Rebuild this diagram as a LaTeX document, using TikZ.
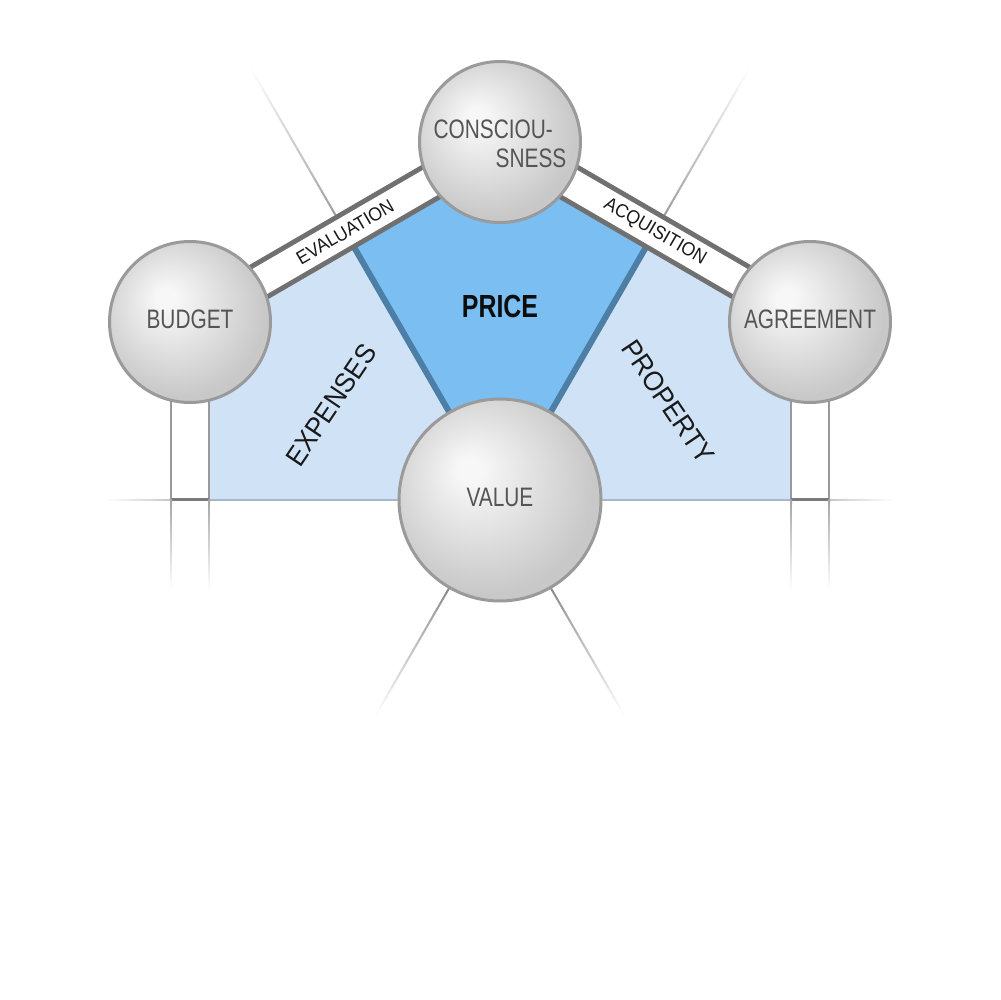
\documentclass[tikz,border=0pt]{standalone}
\usepackage{fontspec}
\setmainfont{Liberation Sans}[FakeStretch=0.93]
\newfontfamily\narrowfont{Liberation Sans}[FakeStretch=0.78]
\usetikzlibrary{calc,backgrounds}

\definecolor{rimgray}{HTML}{9A9A9A}
\definecolor{orbhi}{HTML}{F7F7F7}
\definecolor{orblo}{HTML}{C8C8C8}
\definecolor{labelgray}{HTML}{555555}
\definecolor{bandgray}{HTML}{707070}
\definecolor{paleblue}{HTML}{D0E3F6}
\definecolor{priceblue}{HTML}{7BBEF1}
\definecolor{steelblue}{HTML}{4C7EA6}
\definecolor{baseblue}{HTML}{A5B8CC}

\pgfdeclareradialshading{orbshade}{\pgfpoint{-8bp}{8bp}}{color(0bp)=(orbhi); color(3bp)=(orbhi); color(27bp)=(orblo); color(50bp)=(orblo)}

% gray guide line that fades out towards its second end
\newcommand{\fadeline}[3]{%
  \foreach \k in {1,...,24}{%
    \pgfmathtruncatemacro{\tone}{#3*(25-\k)/24}%
    \draw[line width=0.2mm, line cap=round, black!\tone] ($(#1)!{(\k-1)/24}!(#2)$) -- ($(#1)!{\k/24}!(#2)$);
  }}

\begin{document}
\begin{tikzpicture}[x=0.1mm, y=0.1mm,
		orb/.style={circle, draw=rimgray, line width=0.3mm, shading=orbshade, minimum size=16.1mm, inner sep=0pt, text depth=0.6mm, text=labelgray, font=\narrowfont\fontsize{7.6}{9}\selectfont},
		bigorb/.style={orb, minimum size=20.2mm},
		orbtext/.style={inner sep=0pt, text=labelgray, font=\narrowfont\fontsize{7.6}{9}\selectfont},
		bandedge/.style={draw=bandgray, line width=3.9mm},
		bandface/.style={draw=white, line width=2.9mm},
		priceline/.style={draw=steelblue, line width=0.6mm},
		pillar/.style={draw=black!40, line width=0.2mm},
		bandlabel/.style={inner sep=0pt, text=black!90, font=\fontsize{5.4}{6}\selectfont},
		sidelabel/.style={inner sep=0pt, text=black!90, font=\fontsize{7.9}{9}\selectfont},
		pricelabel/.style={inner sep=0pt, text=black!95, font=\narrowfont\bfseries\fontsize{9.1}{10}\selectfont}]
	\useasboundingbox (0,0) rectangle (1000,1000);
	% spheres
	\node[orb] (cons) at (500,858) {};
	\node[orbtext, anchor=base west] (cons1) at (433,861) {CONSCIOU-};
	\node[orbtext, anchor=base east] (cons2) at (567,832) {SNESS};
	\node[orb] (budget) at (190,678) {BUDGET};
	\node[orb] (agree) at (810,678) {AGREEMENT};
	\node[bigorb] (value) at (500,500) {VALUE};
	% labels
	\node[pricelabel] (price) at (500,694) {PRICE};
	\node[sidelabel, rotate=56] (expenses) at (331,595) {EXPENSES};
	\node[sidelabel, rotate=-56] (property) at (668,598) {PROPERTY};
	\path (budget) -- (cons) node[bandlabel, midway, sloped] (evaluation) {EVALUATION};
	\path (cons) -- (agree) node[bandlabel, midway, sloped] (acquisition) {ACQUISITION};
	\begin{pgfonlayer}{background}
		\fill[white] (0,0) rectangle (1000,1000);
		\fill[paleblue] (209,500) -- (209,689) -- (cons.center) -- (791,689) -- (791,500) -- cycle;
		\coordinate (pl) at ($(value.center)+(120:310)$);
		\coordinate (pr) at ($(value.center)+(60:310)$);
		\fill[priceblue] (value.center) -- (pl) -- (cons.center) -- (pr) -- cycle;
		\draw[priceline] (value.center) -- (pl);
		\draw[priceline] (value.center) -- (pr);
		\draw[baseblue, line width=0.2mm] (209,500) -- (791,500);
		% pillars under budget and agreement
		\draw[pillar] (171,620) -- (171,500) (209,620) -- (209,500);
		\draw[pillar] (791,620) -- (791,500) (829,620) -- (829,500);
		\draw[black!52, line width=0.3mm] (171,500) -- (209,500) (791,500) -- (829,500);
		% guide lines
		\coordinate (ul0) at ($(value.center)+(120:329)$);
		\coordinate (ul1) at ($(value.center)+(120:496)$);
		\coordinate (ur0) at ($(value.center)+(60:329)$);
		\coordinate (ur1) at ($(value.center)+(60:496)$);
		\coordinate (dl0) at ($(value.center)+(-120:102)$);
		\coordinate (dl1) at ($(value.center)+(-120:248)$);
		\coordinate (dr0) at ($(value.center)+(-60:102)$);
		\coordinate (dr1) at ($(value.center)+(-60:248)$);
		\fadeline{ul0}{ul1}{38}
		\fadeline{ur0}{ur1}{38}
		\fadeline{dl0}{dl1}{45}
		\fadeline{dr0}{dr1}{45}
		\coordinate (hl0) at (171,500);
		\coordinate (hl1) at (105,500);
		\coordinate (hr0) at (829,500);
		\coordinate (hr1) at (895,500);
		\fadeline{hl0}{hl1}{22}
		\fadeline{hr0}{hr1}{22}
		\foreach \px in {171,209,791,829}{
			\coordinate (vt) at (\px,500);
			\coordinate (vb) at (\px,410);
			\fadeline{vt}{vb}{35}
		}
		% bands
		\draw[bandedge] (budget.center) -- (cons.center);
		\draw[bandface] (budget.center) -- (cons.center);
		\draw[bandedge] (cons.center) -- (agree.center);
		\draw[bandface] (cons.center) -- (agree.center);
	\end{pgfonlayer}
\end{tikzpicture}
\end{document}
